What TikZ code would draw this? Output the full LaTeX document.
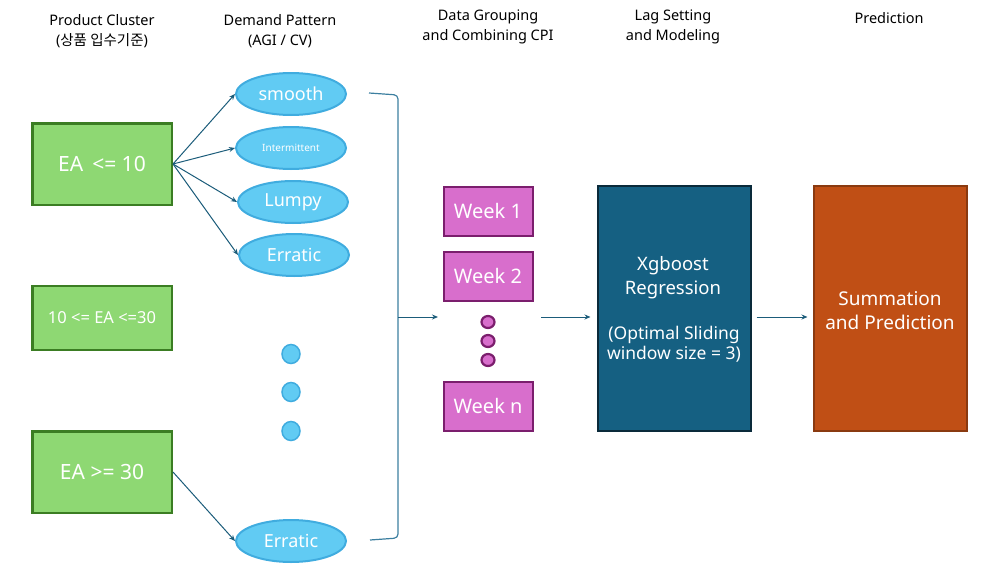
\documentclass[tikz,border=0pt]{standalone}
\usepackage{fontspec}
\setmainfont{Noto Sans}
\newfontfamily\cjk{Noto Sans CJK KR}
\usetikzlibrary{shapes.geometric,arrows.meta}

\begin{document}
\begin{tikzpicture}[x=1pt, y=-1pt,
  head/.style={align=center, inner sep=0pt, font=\fontsize{14.5}{19.5}\selectfont},
  cluster/.style={draw=clusterLine, fill=clusterFill, line width=2.5pt, text=white,
    minimum width=139.5pt, minimum height=81.5pt, inner sep=0pt},
  demand/.style={ellipse, draw=demandLine, fill=demandFill, line width=2pt, text=white,
    minimum width=110pt, minimum height=42pt, inner sep=0pt, font=\fontsize{18}{20}\selectfont},
  week/.style={draw=weekLine, fill=weekFill, line width=2pt, text=white,
    minimum width=89pt, minimum height=49pt, inner sep=0pt, font=\fontsize{20}{20}\selectfont},
  stage/.style={line width=2pt, minimum width=153pt, minimum height=245pt, inner sep=0pt},
  stagetext/.style={align=center, text=white, inner sep=0pt},
  flow/.style={draw=flowColor, line width=1pt, -{Stealth[length=6pt,width=5pt]}}]

  \useasboundingbox (0,0) rectangle (985,581);

  \definecolor{clusterFill}{RGB}{142,216,115}
  \definecolor{clusterLine}{RGB}{59,125,35}
  \definecolor{demandFill}{RGB}{97,203,243}
  \definecolor{demandLine}{RGB}{64,172,223}
  \definecolor{weekFill}{RGB}{216,110,204}
  \definecolor{weekLine}{RGB}{123,30,109}
  \definecolor{xgbFill}{RGB}{21,96,130}
  \definecolor{xgbLine}{RGB}{10,42,58}
  \definecolor{sumFill}{RGB}{192,79,21}
  \definecolor{sumLine}{RGB}{138,58,16}
  \definecolor{flowColor}{RGB}{27,92,122}
  \definecolor{bracketColor}{RGB}{60,127,160}

  % Column headers
  \node[head] (hCluster) at (102,31) {Product Cluster\\({\cjk 상품 입수기준})};
  \node[head] (hDemand)  at (280,31) {Demand Pattern\\(AGI / CV)};
  \node[head] (hGroup)   at (488,27) {Data Grouping\\and Combining CPI};
  \node[head] (hLag)     at (673,27) {Lag Setting\\and Modeling};
  \node[head] (hPred)    at (889,18) {Prediction};

  % Product clusters
  \node[cluster, font=\fontsize{21}{21}\selectfont] (lowEA) at (102,164) {EA \,<= 10};
  \node[cluster, font=\fontsize{16.5}{17}\selectfont, minimum height=64pt] (midEA) at (102,318) {10 <= EA <=30};
  \node[cluster, font=\fontsize{21}{21}\selectfont] (highEA) at (102,472) {EA >= 30};

  % Demand patterns
  \node[demand] (smooth) at (291,94) {smooth};
  \node[demand, font=\fontsize{10}{12}\selectfont] (inter) at (291,148) {Intermittent};
  \node[demand] (lumpy) at (293,202) {Lumpy};
  \node[demand] (erratA) at (294,255) {Erratic};
  \node[demand] (erratB) at (291,541) {Erratic};

  \foreach \y/\name in {354/dA, 392/dB, 431/dC}{
    \node[ellipse, draw=demandLine, fill=demandFill, line width=1.5pt,
      minimum width=18pt, minimum height=19pt, inner sep=0pt] (\name) at (291,\y) {};
  }

  % Draw the edges from the clusters
  \foreach \e in {smooth, inter, lumpy, erratA}{
    \draw[flow] (lowEA.east) -- (\e.west);
  }
  \draw[flow] (highEA.east) -- (erratB.west);

  % Bracket that groups the patterns
  \coordinate (bTop) at (369,93);
  \coordinate (bBot) at (370,540);
  \coordinate (bMid) at (398,317);
  \coordinate (grpIn) at (438,317);
  \draw[bracketColor, line width=1.2pt, rounded corners=4pt]
    (bTop) -- (398,95) -- (398,538) -- (bBot);
  \draw[flow] (bMid) -- (grpIn);

  % Weekly groups
  \foreach \y/\name/\txt in {211/w1/Week 1, 276/w2/Week 2, 406/wn/Week n}{
    \node[week] (\name) at (488,\y) {\txt};
  }
  \foreach \y/\name in {322/wdA, 341/wdB, 360/wdC}{
    \node[ellipse, draw=weekLine, fill=weekFill, line width=2.2pt,
      minimum width=13pt, minimum height=12pt, inner sep=0pt] (\name) at (488,\y) {};
  }

  % Model and prediction
  \node[stage, draw=xgbLine, fill=xgbFill] (xgb) at (674,308.5) {};
  \node[stagetext, font=\fontsize{18.5}{24}\selectfont] (xgbTop) at (673,278)
    {Xgboost\\Regression};
  \node[stagetext, font=\fontsize{17.5}{20.5}\selectfont] (xgbSub) at (674,344)
    {(Optimal Sliding\\window size = 3)};
  \node[stage, draw=sumLine, fill=sumFill] (summ) at (890,308.5) {};
  \node[stagetext, font=\fontsize{19}{24}\selectfont] (summText) at (890,311)
    {Summation\\and Prediction};

  \coordinate (grpOut) at (541,317);
  \draw[flow, shorten >=6pt] (grpOut) -- (xgb.west |- grpOut);
  \draw[flow, shorten <=5pt, shorten >=5pt] (xgb.east |- grpOut) -- (summ.west |- grpOut);
\end{tikzpicture}
\end{document}
